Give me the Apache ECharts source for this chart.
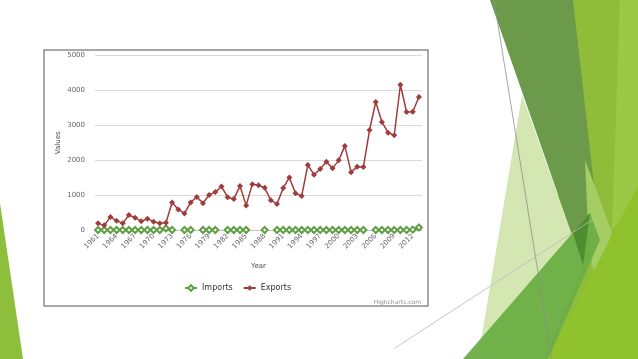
<!DOCTYPE html>
<html>
<head>
<meta charset="utf-8">
<script src="https://cdn.jsdelivr.net/npm/echarts@6/dist/echarts.min.js"></script>
<style>
html,body{margin:0;padding:0;background:#fff;}
#chart{width:638px;height:359px;}
</style>
</head>
<body>
<div id="chart"></div>
<script>
var years = ['1961','1962','1963','1964','1965','1966','1967','1968','1969','1970',
  '1971','1972','1973','1974','1975','1976','1977','1978','1979','1980',
  '1981','1982','1983','1984','1985','1986','1987','1988','1989','1990',
  '1991','1992','1993','1994','1995','1996','1997','1998','1999','2000',
  '2001','2002','2003','2004','2005','2006','2007','2008','2009','2010',
  '2011','2012','2013'];

var imports = [0,0,0,0,0,0,0,0,0,0,
  0,45,0,null,0,0,null,0,0,0,
  null,0,0,0,0,null,null,0,null,0,
  0,0,0,0,0,0,0,0,0,0,
  0,0,0,0,null,0,0,0,0,0,
  0,10,70];

var exports = [190,133,371,267,190,429,352,248,324,238,
  190,210,790,590,476,790,945,770,1005,1086,
  1245,940,890,1258,705,1314,1280,1210,850,748,
  1200,1505,1050,975,1862,1585,1748,1955,1766,1995,
  2410,1657,1810,1805,2865,3667,3095,2790,2714,4162,
  3381,3390,3810];

var yTicks = [0,1000,2000,3000,4000,5000];

var FONT = 'DejaVu Sans';
var chart = echarts.init(document.getElementById('chart'), null, {renderer:'canvas'});

var deco = [
  {type:'rect', z:-10, silent:true, shape:{x:44,y:50,width:384,height:256},
   style:{fill:'#fff', stroke:'#8c8c8c', lineWidth:1.5}},
  {type:'polygon', z:-20, silent:true, shape:{points:[[0,203],[23,359],[0,359]]}, style:{fill:'#8dbf3c'}},
  {type:'polygon', z:-20, silent:true, shape:{points:[[573,0],[638,0],[638,359],[545,359]]}, style:{fill:'#8fbd3a'}},
  {type:'polygon', z:-19, silent:true, shape:{points:[[620,0],[638,0],[638,200],[612,230]]}, style:{fill:'#9cc845'}},
  {type:'polygon', z:-18, silent:true, shape:{points:[[522,95],[583,265],[545,359],[478,359]]}, style:{fill:'#d4e7b2'}},
  {type:'polygon', z:-17, silent:true, shape:{points:[[490,0],[573,0],[600,238],[583,266]]}, style:{fill:'#6b9b4a'}},
  {type:'polygon', z:-16, silent:true, shape:{points:[[585,160],[612,232],[596,282],[589,250]]}, style:{fill:'#a6cd64'}},
  {type:'polygon', z:-15, silent:true, shape:{points:[[463,359],[590,213],[600,240],[548,359]]}, style:{fill:'#6cae45', opacity:0.95}},
  {type:'polygon', z:-14, silent:true, shape:{points:[[573,233],[590,213],[583,265]]}, style:{fill:'#4f8d2e'}},
  {type:'polygon', z:-13, silent:true, shape:{points:[[548,359],[638,185],[638,359]]}, style:{fill:'#8fc22d'}},
  {type:'line', z:-12, silent:true, shape:{x1:494,y1:0,x2:552,y2:359}, style:{stroke:'#8f8f8f', lineWidth:0.8}},
  {type:'line', z:-12, silent:true, shape:{x1:395,y1:348,x2:595,y2:218}, style:{stroke:'#b8b8b8', lineWidth:0.8}},
  {type:'text', z:5, silent:true, style:{x:421, y:302, text:'Highcharts.com', fill:'#909090',
    font:'6px ' + FONT, align:'right', verticalAlign:'middle'}}
];

var option = {
  animation:false,
  backgroundColor:'#fff',
  graphic: deco,
  grid:{left:95, right:216, top:55.5, bottom:129, containLabel:false},
  legend:{
    left:179, top:279, itemWidth:12, itemHeight:7, itemGap:10,
    textStyle:{fontFamily:FONT, fontSize:8, color:'#333'},
    data:['Imports','Exports']
  },
  xAxis:{
    type:'category', data:years, boundaryGap:true,
    name:'Year', nameLocation:'middle', nameGap:33,
    nameTextStyle:{fontFamily:FONT, fontSize:7, color:'#4d4d4d'},
    axisLine:{lineStyle:{color:'#c0c0c0', width:1}},
    axisTick:{alignWithLabel:true, interval:2, length:4, lineStyle:{color:'#c0c0c0'}},
    axisLabel:{interval:2, rotate:45, fontFamily:FONT, fontSize:7, color:'#666', margin:5}
  },
  yAxis:{
    type:'value', min:yTicks[0], max:yTicks[yTicks.length-1], interval:1000,
    name:'Values', nameLocation:'middle', nameGap:33, nameRotate:90, nameMoveOverlap:false,
    nameTextStyle:{fontFamily:FONT, fontSize:7, color:'#4d4d4d'},
    axisLine:{show:false}, axisTick:{show:false},
    axisLabel:{fontFamily:FONT, fontSize:7, color:'#666', margin:10,
      formatter:function(v){ return String(v); }},
    splitLine:{lineStyle:{color:'#dadada', width:1}}
  },
  series:[
    {name:'Imports', type:'line', data:imports, connectNulls:false,
     symbol:'emptyDiamond', symbolSize:6, showAllSymbol:true,
     itemStyle:{color:'#5f9e44', borderWidth:1.2},
     lineStyle:{color:'#5f9e44', width:1.3}},
    {name:'Exports', type:'line', data:exports,
     symbol:'diamond', symbolSize:6, showAllSymbol:true,
     itemStyle:{color:'#a03c3c'},
     lineStyle:{color:'#a03c3c', width:1.5}}
  ]
};
chart.setOption(option);
</script>
</body>
</html>
